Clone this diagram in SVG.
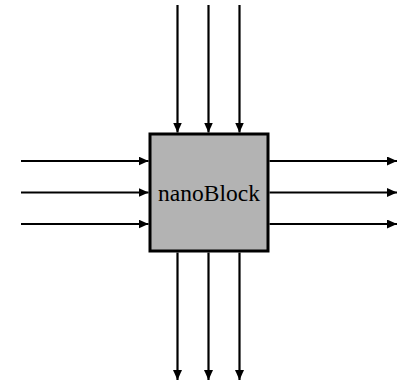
<svg xmlns="http://www.w3.org/2000/svg" width="406" height="383" viewBox="0 0 406 383">
<style>
.c{stroke:#000;stroke-width:2.2;fill:none}
.box{fill:#b3b3b3;stroke:#000;stroke-width:3}
.t{font-family:"Liberation Serif","Times New Roman",serif;font-size:23.5px;fill:#000}
</style>
<defs>
<marker id="ah" viewBox="0 0 10 9" refX="10" refY="4.5" markerWidth="10" markerHeight="9" markerUnits="userSpaceOnUse" orient="auto">
<path d="M0,0 L10,4.5 L0,9 Z" fill="#000"/>
</marker>
</defs>
<g id="connectors">
<line class="c" x1="177.5" y1="5" x2="177.5" y2="132.5" marker-end="url(#ah)"/>
<line class="c" x1="208.5" y1="5" x2="208.5" y2="132.5" marker-end="url(#ah)"/>
<line class="c" x1="239.5" y1="5" x2="239.5" y2="132.5" marker-end="url(#ah)"/>
<line class="c" x1="21" y1="161" x2="148.5" y2="161" marker-end="url(#ah)"/>
<line class="c" x1="21" y1="192.5" x2="148.5" y2="192.5" marker-end="url(#ah)"/>
<line class="c" x1="21" y1="224" x2="148.5" y2="224" marker-end="url(#ah)"/>
<line class="c" x1="269.5" y1="161" x2="397" y2="161" marker-end="url(#ah)"/>
<line class="c" x1="269.5" y1="192.5" x2="397" y2="192.5" marker-end="url(#ah)"/>
<line class="c" x1="269.5" y1="224" x2="397" y2="224" marker-end="url(#ah)"/>
<line class="c" x1="177.5" y1="252.5" x2="177.5" y2="380" marker-end="url(#ah)"/>
<line class="c" x1="208.5" y1="252.5" x2="208.5" y2="380" marker-end="url(#ah)"/>
<line class="c" x1="239.5" y1="252.5" x2="239.5" y2="380" marker-end="url(#ah)"/>
</g>
<g id="nanoBlock">
<rect class="box" x="150" y="134" width="118" height="117"/>
<text class="t" x="209" y="201" text-anchor="middle">nanoBlock</text>
</g>
</svg>
